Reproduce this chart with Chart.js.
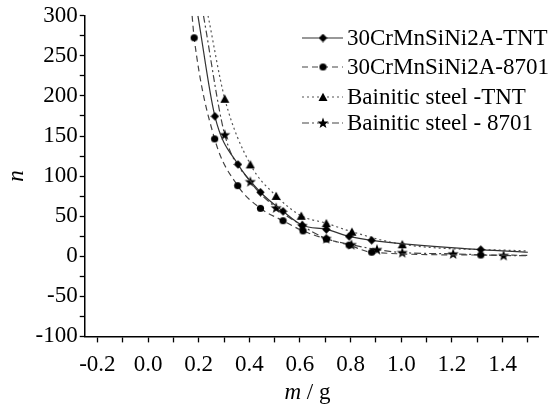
<!DOCTYPE html>
<html>
<head>
<meta charset="utf-8">
<script src="https://cdn.jsdelivr.net/npm/chart.js@4/dist/chart.umd.min.js"></script>
<style>
html, body { margin: 0; padding: 0; background: #fff; }
#wrap { width: 557px; height: 412px; }
</style>
</head>
<body>
<div id="wrap"><canvas id="canvas1"></canvas></div>
<script>
// series names (legend)
var names = ['30CrMnSiNi2A-TNT', '30CrMnSiNi2A-8701', 'Bainitic steel -TNT', 'Bainitic steel - 8701'];

// marker points (m in g, n)
var mDiamond = [0.264, 0.355, 0.444, 0.533, 0.609, 0.704, 0.794, 0.883, 1.314];
var nDiamond = [174.6, 114.6, 79.9, 56.1, 38.7, 33.5, 24.8, 19.9, 8.3];
var mCircle  = [0.182, 0.263, 0.354, 0.444, 0.533, 0.612, 0.704, 0.794, 0.883, 1.314];
var nCircle  = [272.6, 146.4, 88.1, 59.8, 44.3, 31.6, 21.6, 13.9, 5.0, 1.5];
var mTri     = [0.303, 0.404, 0.506, 0.605, 0.704, 0.805, 1.004];
var nTri     = [196.5, 114.6, 75.3, 50.5, 41.2, 30.6, 14.9];
var mStar    = [0.303, 0.404, 0.506, 0.609, 0.704, 0.803, 0.904, 1.004, 1.205, 1.404];
var nStar    = [151.6, 93.1, 60.4, 38.1, 22.0, 14.5, 8.3, 4.6, 3.0, 1.0];

// where each curve leaves the top of the plot and where it stops at the right
var curveStart = [[0.197, 300], [0.174, 300], [0.237, 300], [0.219, 300]];
var curveEnd   = [[1.5, 5], [1.5, 1.2], [1.5, 6.5], [1.5, 0.8]];

// axis ticks
var xTickValues = [-0.2, -0.1, 0, 0.1, 0.2, 0.3, 0.4, 0.5, 0.6, 0.7, 0.8, 0.9, 1.0, 1.1, 1.2, 1.3, 1.4, 1.5];
var xLabelValues = [-0.2, 0, 0.2, 0.4, 0.6, 0.8, 1.0, 1.2, 1.4];
var xTickLabels = ['-0.2', '0.0', '0.2', '0.4', '0.6', '0.8', '1.0', '1.2', '1.4'];
var yTickValues = [-100, -75, -50, -25, 0, 25, 50, 75, 100, 125, 150, 175, 200, 225, 250, 275, 300];
var yLabelValues = [-100, -50, 0, 50, 100, 150, 200, 250, 300];
var yTickLabels = ['-100', '-50', '0', '50', '100', '150', '200', '250', '300'];

function makeMarker(shape) {
    var c = document.createElement('canvas');
    var s = shape == 'star' ? 12 : (shape == 'triangle' ? 10 : 9);
    c.width = s; c.height = s;
    var g = c.getContext('2d');
    g.fillStyle = '#000';
    g.beginPath();
    if (shape == 'diamond') {
        g.moveTo(4.5, 0.3); g.lineTo(8.7, 4.5); g.lineTo(4.5, 8.7); g.lineTo(0.3, 4.5);
    } else if (shape == 'circle') {
        g.arc(4.5, 4.5, 3.6, 0, Math.PI * 2);
    } else if (shape == 'triangle') {
        g.moveTo(5, 0.8); g.lineTo(9.5, 9); g.lineTo(0.5, 9);
    } else {
        for (var k = 0; k < 10; k++) {
            var r = k % 2 == 0 ? 5.8 : 2.4;
            var a = -Math.PI / 2 + k * Math.PI / 5;
            var px = 6 + r * Math.cos(a), py = 6.4 + r * Math.sin(a);
            if (k == 0) g.moveTo(px, py); else g.lineTo(px, py);
        }
    }
    g.closePath();
    g.fill();
    return c;
}

var markers = [makeMarker('diamond'), makeMarker('circle'), makeMarker('triangle'), makeMarker('star')];
var dashes = [[], [6, 4], [2, 3], [7, 3, 2, 3]];
var colors = ['#333', '#444', '#555', '#444'];
var mList = [mDiamond, mCircle, mTri, mStar];
var nList = [nDiamond, nCircle, nTri, nStar];

function buildData(i) {
    var pts = [{x: curveStart[i][0], y: curveStart[i][1]}];
    for (var j = 0; j < mList[i].length; j++) {
        pts.push({x: mList[i][j], y: nList[i][j]});
    }
    pts.push({x: curveEnd[i][0], y: curveEnd[i][1]});
    return pts;
}

var datasets = [];
for (var i = 0; i < 4; i++) {
    (function(i) {
        datasets.push({
            label: names[i],
            data: buildData(i),
            borderColor: colors[i],
            borderWidth: 1.2,
            borderDash: dashes[i],
            cubicInterpolationMode: 'monotone',
            fill: false,
            pointStyle: function(ctx) {
                var last = ctx.dataset.data.length - 1;
                if (ctx.dataIndex == 0 || ctx.dataIndex == last) return false;
                return markers[i];
            },
            pointRadius: 4
        });
    })(i);
}

// legend drawn inside the plot, like the original figure
var insideLegend = {
    id: 'insideLegend',
    afterDraw: function(chart) {
        var ctx = chart.ctx;
        var rows = [38, 67, 97, 123];
        ctx.save();
        for (var i = 0; i < chart.data.datasets.length; i++) {
            var ds = chart.data.datasets[i];
            var y = rows[i];
            ctx.strokeStyle = ds.borderColor;
            ctx.lineWidth = ds.borderWidth;
            ctx.setLineDash(ds.borderDash);
            ctx.beginPath();
            ctx.moveTo(302, y);
            ctx.lineTo(343, y);
            ctx.stroke();
            var mk = markers[i];
            ctx.drawImage(mk, 323 - mk.width / 2, y - mk.height / 2);
            ctx.setLineDash([]);
            ctx.fillStyle = '#000';
            ctx.font = '23px "Liberation Serif"';
            ctx.textBaseline = 'alphabetic';
            ctx.fillText(ds.label, 347, y + 7);
        }
        ctx.restore();
    }
};

// x axis title with italic m and upright "/ g"
var xTitle = {
    id: 'xTitle',
    afterDraw: function(chart) {
        var ctx = chart.ctx;
        var area = chart.chartArea;
        ctx.save();
        ctx.fillStyle = '#000';
        ctx.textBaseline = 'alphabetic';
        ctx.font = 'italic 23px "Liberation Serif"';
        var w1 = ctx.measureText('m').width;
        ctx.font = '23px "Liberation Serif"';
        var w2 = ctx.measureText(' / g').width;
        var x0 = (area.left + area.right) / 2 - (w1 + w2) / 2 - 4;
        var yb = area.bottom + 63;
        ctx.font = 'italic 23px "Liberation Serif"';
        ctx.fillText('m', x0, yb);
        ctx.font = '23px "Liberation Serif"';
        ctx.fillText(' / g', x0 + w1, yb);
        ctx.restore();
    }
};

function pickLabel(values, labels) {
    return function(v) {
        for (var k = 0; k < values.length; k++) {
            if (Math.abs(values[k] - v) < 1e-6) return labels[k];
        }
        return '';
    };
}

var tickFont = {family: '"Liberation Serif"', size: 23};

var chart = new Chart(document.getElementById('canvas1'), {
    type: 'line',
    data: {datasets: datasets},
    plugins: [insideLegend, xTitle],
    options: {
        responsive: true,
        maintainAspectRatio: false,
        animation: false,
        layout: {padding: {left: 0, right: 19, top: 2, bottom: 24}},
        plugins: {
            legend: {display: false},
            tooltip: {enabled: false}
        },
        scales: {
            x: {
                type: 'linear',
                min: -0.25,
                max: 1.54,
                afterBuildTicks: function(axis) {
                    axis.ticks = xTickValues.map(function(v) { return {value: v}; });
                },
                ticks: {
                    autoSkip: false,
                    maxRotation: 0,
                    color: '#000',
                    font: tickFont,
                    padding: 9,
                    callback: pickLabel(xLabelValues, xTickLabels)
                },
                grid: {drawOnChartArea: false, tickLength: 6, tickColor: '#000', tickWidth: 1.3},
                border: {color: '#000', width: 1.5}
            },
            y: {
                min: -100,
                max: 300,
                afterBuildTicks: function(axis) {
                    axis.ticks = yTickValues.map(function(v) { return {value: v}; });
                },
                ticks: {
                    autoSkip: false,
                    color: '#000',
                    font: tickFont,
                    padding: 2,
                    callback: pickLabel(yLabelValues, yTickLabels)
                },
                grid: {drawOnChartArea: false, tickLength: 5, tickColor: '#000', tickWidth: 1.3},
                border: {color: '#000', width: 1.5},
                title: {
                    display: true,
                    text: 'n',
                    color: '#000',
                    font: {family: '"Liberation Serif"', size: 23, style: 'italic'},
                    padding: {top: 3, bottom: 3}
                }
            }
        }
    }
});
</script>
</body>
</html>
